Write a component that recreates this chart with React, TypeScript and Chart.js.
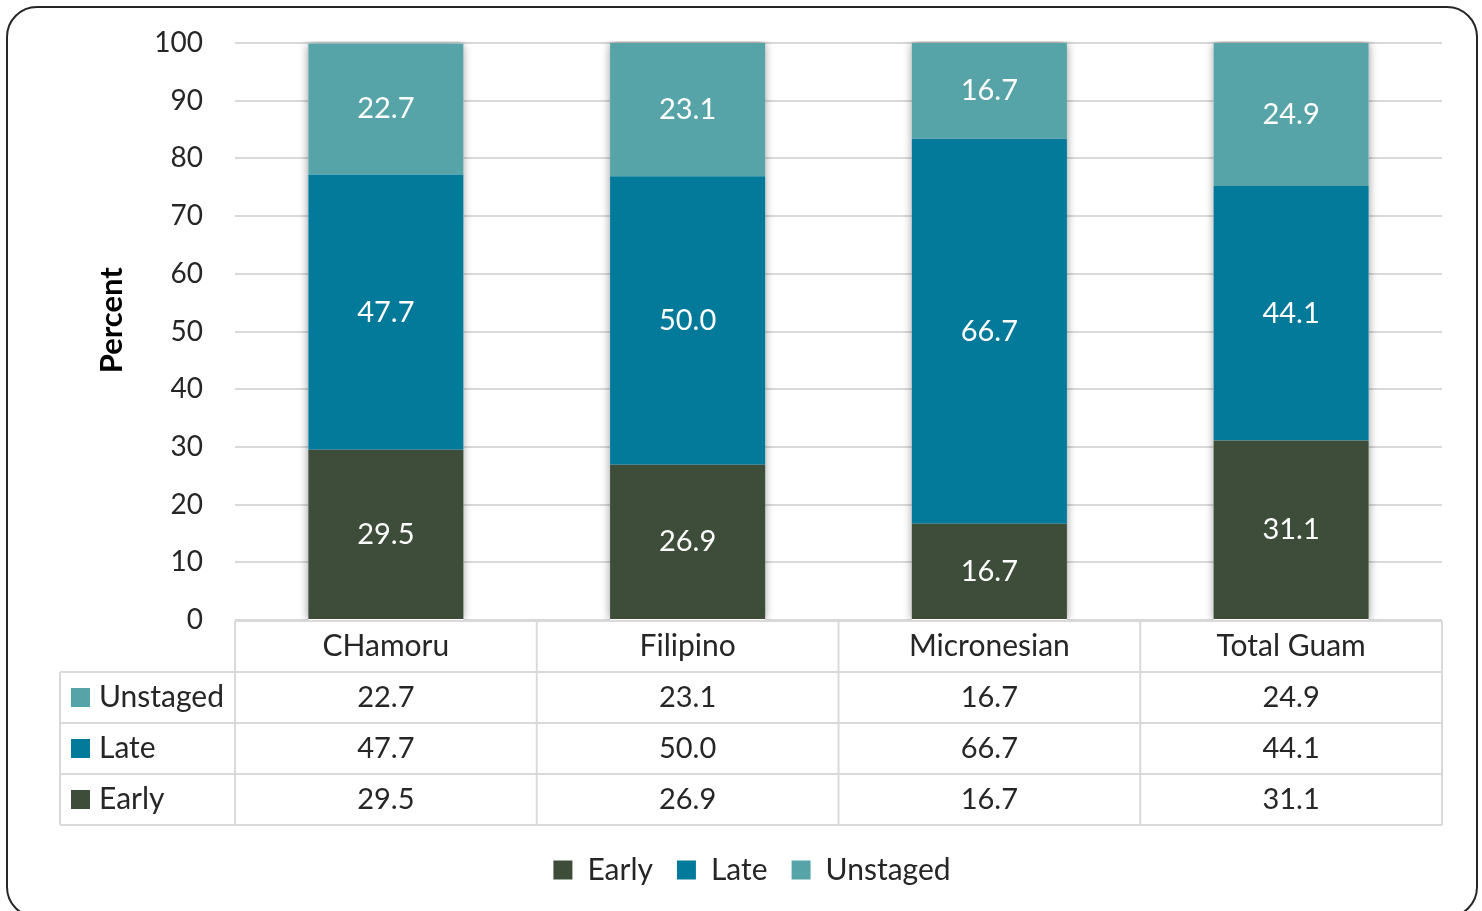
import React, { useEffect, useRef } from "react";
import { Chart, registerables } from "chart.js";

Chart.register(...registerables);

const categories = ["CHamoru", "Filipino", "Micronesian", "Total Guam"];
const earlyValues = [29.5, 26.9, 16.7, 31.1];
const lateValues = [47.7, 50.0, 66.7, 44.1];
const unstagedValues = [22.7, 23.1, 16.7, 24.9];
const seriesNames = ["Early", "Late", "Unstaged"];
const seriesColors = ["#3D4D3A", "#047A9B", "#57A4A8"];
const yAxisTitle = "   Percent";

const FONT = "Lato, 'Open Sans', sans-serif";
const TEXT = "#262626";
const GRID = "#d9d9d9";

const framePlugin = {
  id: "frame",
  beforeDraw(chart: any) {
    const { ctx, width, height } = chart;
    ctx.save();
    ctx.fillStyle = "#ffffff";
    ctx.fillRect(0, 0, width, height);
    ctx.restore();
  },
  afterDraw(chart: any) {
    const { ctx } = chart;
    ctx.save();
    ctx.strokeStyle = "#262626";
    ctx.lineWidth = 2;
    ctx.beginPath();
    ctx.roundRect(7, 7, 1470, 910, 30);
    ctx.stroke();
    ctx.restore();
  },
};

const shadowPlugin = {
  id: "barShadow",
  beforeDatasetsDraw(chart: any) {
    const { ctx, chartArea } = chart;
    const yScale = chart.scales.y;
    const meta0 = chart.getDatasetMeta(0);
    ctx.save();
    ctx.beginPath();
    ctx.rect(chartArea.left, chartArea.top - 2, chartArea.width, chartArea.height + 2);
    ctx.clip();
    meta0.data.forEach((el: any, i: number) => {
      let total = 0;
      chart.data.datasets.forEach((ds: any) => (total += ds.data[i]));
      const top = yScale.getPixelForValue(Math.min(total, 100));
      const bottom = yScale.getPixelForValue(0);
      const w = el.width;
      ctx.shadowColor = "rgba(0,0,0,0.45)";
      ctx.shadowBlur = 9;
      ctx.fillStyle = "#ffffff";
      ctx.fillRect(el.x - w / 2, top, w, bottom - top);
    });
    ctx.restore();
  },
};

const labelPlugin = {
  id: "segLabels",
  afterDatasetsDraw(chart: any) {
    const { ctx } = chart;
    ctx.save();
    ctx.fillStyle = "#ffffff";
    ctx.font = `29px ${FONT}`;
    ctx.textAlign = "center";
    ctx.textBaseline = "middle";
    chart.data.datasets.forEach((ds: any, di: number) => {
      const meta = chart.getDatasetMeta(di);
      meta.data.forEach((el: any, i: number) => {
        const { x, y, base } = el.getProps(["x", "y", "base"], true);
        ctx.fillText(Number(ds.data[i]).toFixed(1), x, (y + base) / 2);
      });
    });
    ctx.restore();
  },
};

const tablePlugin = {
  id: "dataTable",
  afterDraw(chart: any) {
    const { ctx, chartArea } = chart;
    const xScale = chart.scales.x;
    const n = categories.length;
    const colW = chartArea.width / n;
    const rowH = 51;
    const top = chartArea.bottom + 1;
    const tableLeft = 60;
    const rows = [2, 1, 0];
    const bottom = top + rowH * (rows.length + 1);
    ctx.save();
    ctx.strokeStyle = GRID;
    ctx.lineWidth = 2;
    ctx.beginPath();
    ctx.moveTo(chartArea.left, top);
    ctx.lineTo(chartArea.right, top);
    for (let r = 1; r <= rows.length + 1; r++) {
      const y = top + r * rowH;
      ctx.moveTo(tableLeft, y);
      ctx.lineTo(chartArea.right, y);
    }
    ctx.moveTo(tableLeft, top + rowH);
    ctx.lineTo(tableLeft, bottom);
    for (let c = 0; c <= n; c++) {
      const x = chartArea.left + c * colW;
      ctx.moveTo(x, top);
      ctx.lineTo(x, bottom);
    }
    ctx.stroke();

    ctx.fillStyle = TEXT;
    ctx.textBaseline = "middle";
    ctx.textAlign = "center";
    ctx.font = `30px ${FONT}`;
    categories.forEach((cat, i) => {
      const cx = xScale.getPixelForValue(i);
      ctx.fillText(cat, cx, top + rowH / 2);
    });
    rows.forEach((di, r) => {
      const ds = chart.data.datasets[di];
      const cy = top + rowH * (r + 1) + rowH / 2;
      ctx.fillStyle = ds.backgroundColor;
      ctx.fillRect(tableLeft + 11, cy - 9.5, 19, 19);
      ctx.fillStyle = TEXT;
      ctx.textAlign = "left";
      ctx.font = `30px ${FONT}`;
      ctx.fillText(ds.label, tableLeft + 39, cy);
      ctx.textAlign = "center";
      ctx.font = `29px ${FONT}`;
      ds.data.forEach((v: number, i: number) => {
        const cx = xScale.getPixelForValue(i);
        ctx.fillText(v.toFixed(1), cx, cy);
      });
    });
    ctx.restore();
  },
};

export default function App() {
  const canvasRef = useRef<HTMLCanvasElement | null>(null);

  useEffect(() => {
    if (!canvasRef.current) return;
    const seriesData = [earlyValues, lateValues, unstagedValues];
    const chart = new Chart(canvasRef.current, {
      type: "bar",
      data: {
        labels: categories,
        datasets: seriesNames.map((name, i) => ({
          label: name,
          data: seriesData[i],
          backgroundColor: seriesColors[i],
          borderWidth: 0,
          barPercentage: 0.514,
          categoryPercentage: 1.0,
        })),
      },
      options: {
        responsive: false,
        animation: false,
        devicePixelRatio: 1,
        layout: { padding: { left: 62, right: 40, top: 43, bottom: 16 } },
        plugins: {
          legend: {
            position: "bottom",
            labels: {
              boxWidth: 19,
              boxHeight: 19,
              padding: 24,
              color: TEXT,
              font: { family: FONT, size: 30 },
            },
          },
          tooltip: { enabled: false },
        },
        scales: {
          x: {
            stacked: true,
            display: true,
            grid: { display: false },
            border: { display: false },
            ticks: { display: false },
            afterFit: (s: any) => {
              s.height = 211;
            },
          },
          y: {
            stacked: true,
            min: 0,
            max: 100,
            ticks: {
              stepSize: 10,
              padding: 32,
              color: TEXT,
              font: { family: FONT, size: 28 },
            },
            grid: { color: GRID, lineWidth: 2, drawTicks: false },
            border: { display: false },
            title: {
              display: true,
              text: yAxisTitle,
              color: "#000000",
              font: { family: FONT, size: 31, weight: "bold" },
              padding: { top: 31, bottom: 0 },
            },
            afterFit: (s: any) => {
              s.width = 173;
              s.paddingTop = 0;
              s.paddingBottom = 0;
            },
          },
        },
      },
      plugins: [framePlugin, shadowPlugin, labelPlugin, tablePlugin],
    } as any);
    return () => chart.destroy();
  }, []);

  return (
    <div style={{ position: "absolute", left: 0, top: 0, width: 1482, height: 911 }}>
      <canvas ref={canvasRef} width={1482} height={911} style={{ width: 1482, height: 911 }} />
    </div>
  );
}
